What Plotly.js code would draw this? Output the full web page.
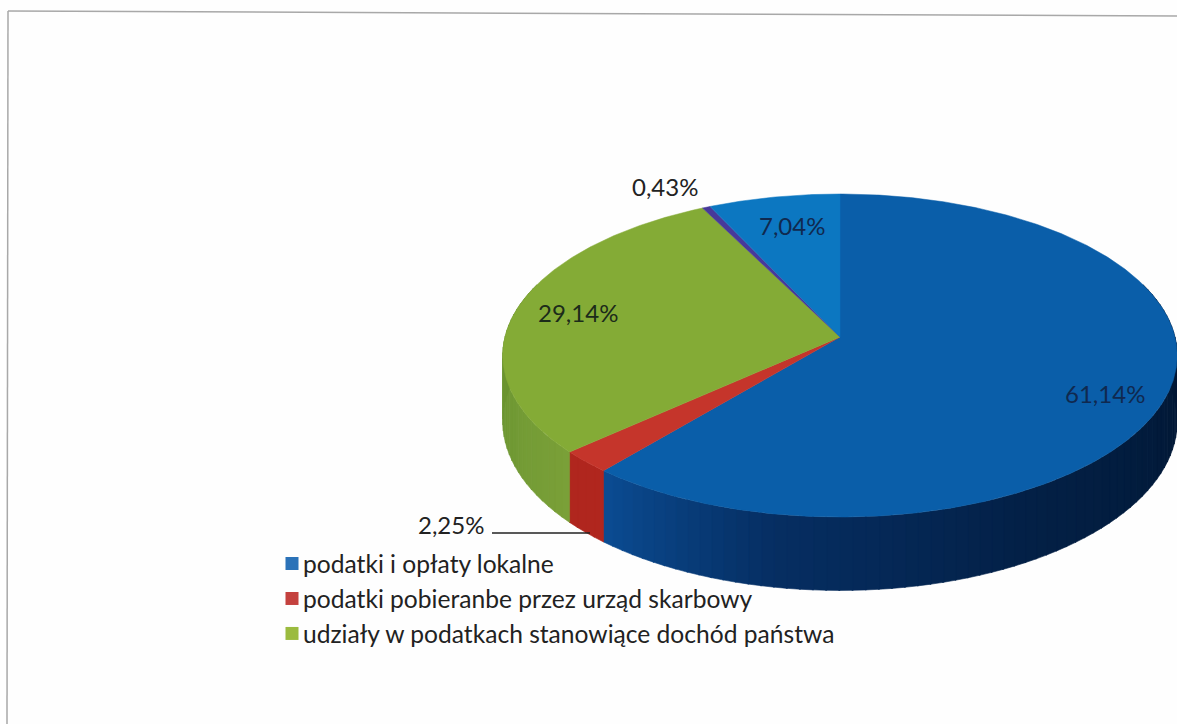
<!DOCTYPE html>
<html>
<head>
<meta charset="utf-8">
<script src="https://cdn.plot.ly/plotly-3.0.1.min.js"></script>
<style>html,body{margin:0;padding:0;background:#fff}#chart{width:1177px;height:724px}</style>
</head>
<body>
<div id="chart"></div>
<script>
// ---- data ----
const categories = [
  'podatki i opłaty lokalne',
  'podatki pobieranbe przez urząd skarbowy',
  'udziały w podatkach stanowiące dochód państwa',
  '',
  ''
];
const values = [61.14, 2.25, 29.14, 0.43, 7.04];
const topColors = ['#0a5ea9', '#c5352b', '#84ab36', '#47399a', '#0c77c1'];
const swatchColors = ['#2b72b8', '#c4413e', '#9bbb3f'];
const labelSpots = [[1105, 393], [451, 524], [578, 312], [665, 186], [792, 225]];
const labelColors = ['#10294f', '#222222', '#1c2b1a', '#222222', '#10294f'];

// ---- 3D pie projection ----
const CX = 840, CY = 337, RX = 335, RY = 159.4, PERSP = 0.1146, DEPTH = 65;
function project(deg, down) {
  const t = deg * Math.PI / 180, u = Math.sin(t), v = Math.cos(t), w = 1 + PERSP * v;
  return [CX + RX * u / w, CY - RY * v / w + (down ? DEPTH / w : 0)];
}
function lerp(stops, a) {
  for (let i = 0; i < stops.length - 1; i++) {
    const s = stops[i], e = stops[i + 1];
    if (a <= e[0] || i === stops.length - 2) {
      const f = Math.max(0, Math.min(1, (a - s[0]) / (e[0] - s[0])));
      return 'rgb(' + [1, 2, 3].map(k => Math.round(s[k] + (e[k] - s[k]) * f)).join(',') + ')';
    }
  }
}
const sideStops = [
  [[90, 1, 22, 50], [150, 3, 32, 70], [190, 6, 46, 98], [222, 11, 78, 150]],
  [[0, 176, 38, 30], [360, 176, 38, 30]],
  [[228, 122, 160, 56], [262, 108, 150, 50], [290, 104, 144, 48]],
  [[0, 60, 50, 130], [360, 60, 50, 130]],
  [[0, 10, 90, 150], [360, 10, 90, 150]]
];

const traces = [];
let start = 0;
const slices = values.map((val, i) => {
  const total = values.reduce((a, b) => a + b, 0);
  const a0 = start, a1 = start + val / total * 360;
  start = a1;
  return [a0, a1];
});
// side wall strips
slices.forEach(([a0, a1], i) => {
  const lo = Math.max(a0, 70), hi = Math.min(a1, 290);
  for (let a = lo; a < hi; a += 2) {
    const b = Math.min(a + 2.2, hi);
    const p = [project(a, false), project(b, false), project(b, true), project(a, true)];
    traces.push({
      type: 'scatter', mode: 'lines', fill: 'toself', showlegend: false, hoverinfo: 'skip',
      x: p.map(q => q[0]).concat(p[0][0]), y: p.map(q => q[1]).concat(p[0][1]),
      line: {width: 0.6, color: lerp(sideStops[i], a + 1)}, fillcolor: lerp(sideStops[i], a + 1)
    });
  }
});
// top faces
slices.forEach(([a0, a1], i) => {
  const xs = [CX], ys = [CY];
  for (let a = a0; a < a1; a += 0.5) { const q = project(a, false); xs.push(q[0]); ys.push(q[1]); }
  const q = project(a1, false); xs.push(q[0], CX); ys.push(q[1], CY);
  traces.push({
    type: 'scatter', mode: 'lines', fill: 'toself', showlegend: false, hoverinfo: 'skip',
    x: xs, y: ys, line: {width: 0.5, color: topColors[i]}, fillcolor: topColors[i],
    name: categories[i]
  });
});
// legend entries (only the three visible in the picture)
categories.forEach((name, i) => {
  if (!name) return;
  traces.push({
    type: 'scatter', mode: 'markers', x: [null], y: [null], name: name,
    marker: {symbol: 'square', size: 13, color: swatchColors[i]}
  });
});

const fmt = v => v.toFixed(2).replace('.', ',') + '%';
const annotations = values.map((v, i) => ({
  x: labelSpots[i][0], y: labelSpots[i][1], xref: 'x', yref: 'y', text: fmt(v), showarrow: false,
  font: {family: 'Lato, sans-serif', size: 24, color: labelColors[i]}
}));

const layout = {
  width: 1177, height: 724,
  margin: {l: 0, r: 0, t: 0, b: 0},
  paper_bgcolor: '#fefefe', plot_bgcolor: 'rgba(0,0,0,0)',
  xaxis: {visible: false, range: [0, 1177], fixedrange: true},
  yaxis: {visible: false, range: [724, 0], fixedrange: true},
  annotations: annotations,
  shapes: [
    {type: 'line', xref: 'x', yref: 'y', x0: 8, y0: 11, x1: 1177, y1: 16, line: {color: '#a8a8a8', width: 1.5}},
    {type: 'line', xref: 'x', yref: 'y', x0: 8, y0: 11, x1: 7, y1: 724, line: {color: '#a8a8a8', width: 1.5}},
    {type: 'line', xref: 'x', yref: 'y', x0: 492, y0: 533, x1: 590, y1: 533, line: {color: '#222', width: 1.5}}
  ],
  showlegend: true,
  legend: {
    x: 263 / 1177, xanchor: 'left', y: 1 - 541 / 724, yanchor: 'top',
    bgcolor: 'rgba(0,0,0,0)', borderwidth: 0,
    font: {family: 'Lato, sans-serif', size: 24.6, color: '#222'}
  }
};
Plotly.newPlot('chart', traces, layout, {displayModeBar: false, staticPlot: true}).then(gd => {
  // bring the swatches close to their text, as in the picture
  gd.querySelectorAll('.legend .legendpoints').forEach(g => g.setAttribute('transform', 'translate(9,0)'));
});
</script>
</body>
</html>
